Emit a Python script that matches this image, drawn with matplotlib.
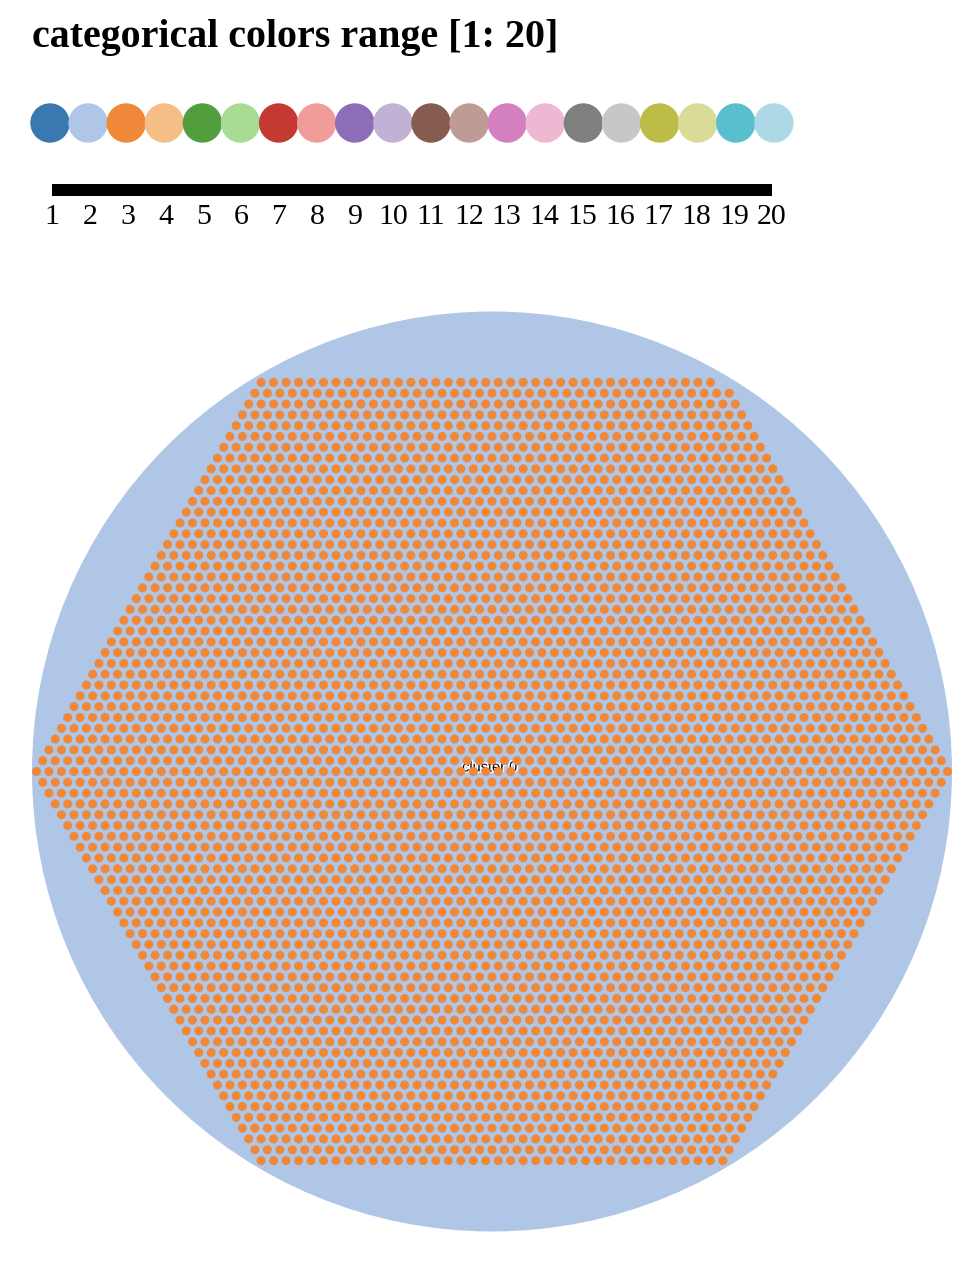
import numpy as np
import matplotlib
matplotlib.use("Agg")
import matplotlib.pyplot as plt
from matplotlib.patches import Circle
import matplotlib.patheffects as pe

# ---------------- data ----------------
title = "categorical colors range [1: 20]"
categories = list(range(1, 21))
tick_labels = [str(c) for c in categories]
palette = ["#3a78b0", "#b0c6e6", "#ef8839", "#f5be86", "#529e3f",
           "#a8dc93", "#c43a33", "#f09c99", "#8d6cb8", "#c1b2d5",
           "#865b50", "#be9c95", "#d47fbe", "#edb8d1", "#7f7f7f",
           "#c7c7c7", "#bcbc46", "#dbdb98", "#59bece", "#acd9e5"]
cluster_name = "cluster 0"
cluster_color_index = 2      # category 2 -> parent circle
leaf_color_index = 3         # category 3 -> leaves
# rows of the packed leaves: number of leaves per row (top to bottom)
row_offsets = list(range(-36, 37))
row_counts = [74 - abs(k) for k in row_offsets]
row_counts[0] -= 1           # last shell of packing is incomplete
n_leaves = sum(row_counts)

# ---------------- figure ----------------
W, H = 976, 1264
fig = plt.figure(figsize=(W / 100, H / 100), dpi=100)
ax = fig.add_axes([0, 0, 1, 1])
ax.set_xlim(0, W)
ax.set_ylim(H, 0)
ax.set_aspect("equal")
ax.axis("off")

# title
ax.text(32, 47, title, fontfamily="Liberation Serif", fontweight="bold",
        fontsize=28.8, va="baseline", ha="left", color="black")

# swatches
sw_x0, sw_dx, sw_y, sw_r = 50, 38.1, 123, 19.7
for i, c in enumerate(categories):
    ax.add_patch(Circle((sw_x0 + sw_dx * i, sw_y), sw_r,
                        facecolor=palette[c - 1], edgecolor="none"))

# scale axis
axb = fig.add_axes([52 / W, (H - 190) / H, 720 / W, 0.001])
axb.set_xlim(categories[0], categories[-1])
axb.set_ylim(0, 1)
axb.patch.set_visible(False)
for s in ("top", "left", "right"):
    axb.spines[s].set_visible(False)
axb.spines["bottom"].set_linewidth(12 * 0.72)
axb.spines["bottom"].set_capstyle("butt")
axb.set_yticks([])
axb.set_xticks(categories)
axb.set_xticklabels(tick_labels, fontfamily="Liberation Serif", fontsize=21.5)
axb.tick_params(axis="x", length=0, pad=10)

# circle pack
cx, cy, R = 492, 771.5, 460
ax.add_patch(Circle((cx, cy), R, facecolor=palette[cluster_color_index - 1],
                    edgecolor="none", zorder=1))
ax.text(cx - 2, cy - 4, cluster_name, fontfamily="Liberation Sans", fontsize=10.5,
        ha="center", va="center", color="black", zorder=2,
        path_effects=[pe.withStroke(linewidth=2, foreground="white")])

s = 12.48
dy = s * np.sqrt(3) / 2
xs, ys = [], []
for k, n in zip(row_offsets, row_counts):
    full = 74 - abs(k)
    start = cx - s * (full - 1) / 2
    for j in range(n):
        xs.append(start + s * j)
        ys.append(cy + dy * k)
leaf_r = 4.5
for x, y in zip(xs, ys):
    ax.add_patch(Circle((x, y), leaf_r, facecolor=palette[leaf_color_index - 1],
                        edgecolor="none", zorder=3))

fig.savefig("out.png", dpi=100, facecolor="white")
